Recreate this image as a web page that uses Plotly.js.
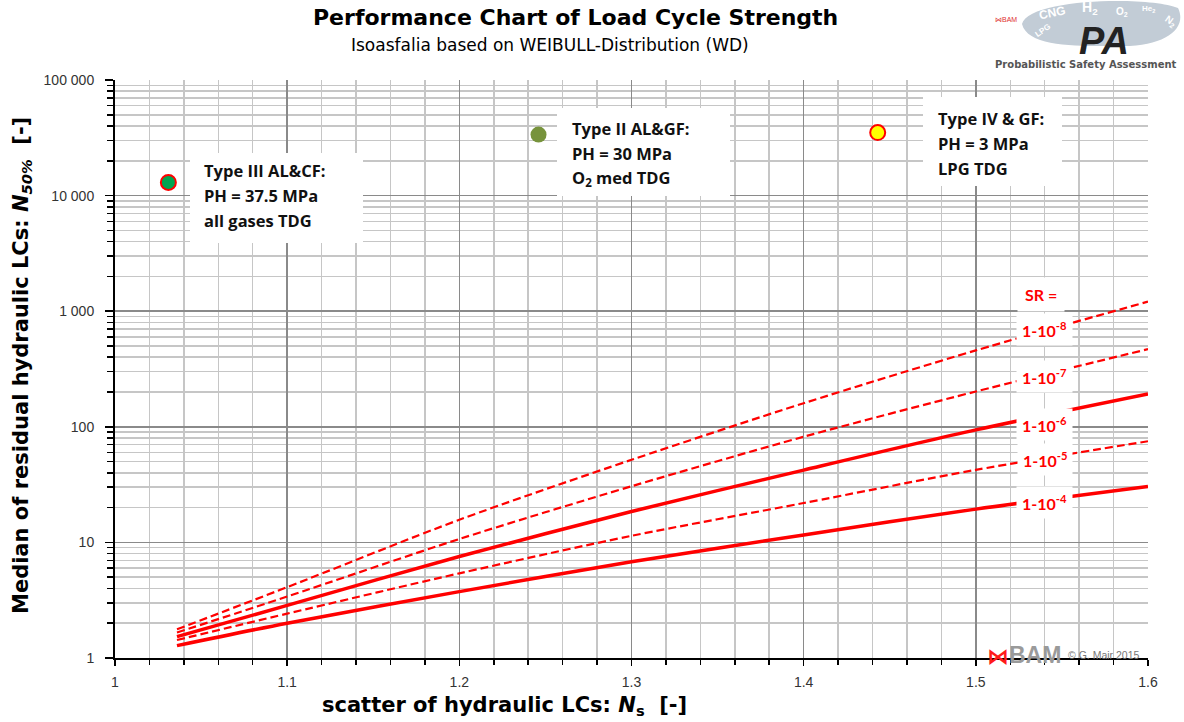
<!DOCTYPE html>
<html>
<head>
<meta charset="utf-8">
<script src="https://cdn.plot.ly/plotly-3.0.1.min.js"></script>
<style>html,body{margin:0;padding:0;background:#fff;}#chart{width:1184px;height:722px;}</style>
</head>
<body>
<div id="chart"></div>
<script>
// ---- data ----
const scatterNs = [1.036, 1.1, 1.2, 1.3, 1.4, 1.5, 1.6];
const sr1e8 = [1.77, 4.1, 15.7, 51.8, 160, 458, 1210];
const sr1e7 = [1.66, 3.4, 10.7, 30.6, 82, 202, 470];
const sr1e6 = [1.53, 2.85, 7.55, 18.5, 42.2, 94, 192];
const sr1e5 = [1.43, 2.42, 5.4, 11.4, 21.9, 42.4, 75];
const sr1e4 = [1.28, 2.0, 3.75, 6.8, 11.6, 19.4, 30.5];

const typeNames = ["Type III AL&CF", "Type II AL&GF", "Type IV & GF"];
const typeNs = [1.031, 1.246, 1.443];
const typeN50 = [13000, 33700, 35100];

const xTickVals = [1, 1.1, 1.2, 1.3, 1.4, 1.5, 1.6];
const xTickText = ["1", "1.1", "1.2", "1.3", "1.4", "1.5", "1.6"];
const yTickVals = [1, 10, 100, 1000, 10000, 100000];
const yTickText = ["1", "10", "100", "1 000", "10 000", "100 000"];

const srLabels = ["1-10<sup>-8</sup>", "1-10<sup>-7</sup>", "1-10<sup>-6</sup>", "1-10<sup>-5</sup>", "1-10<sup>-4</sup>"];

// ---- helpers for decoration placement (pixel -> paper) ----
const L = 115, R = 1148, T = 80, B = 658;
const px = p => (p - L) / (R - L);
const py = p => (B - p) / (B - T);

const RED = '#ff0000';
function lineTrace(y, dash, width, name) {
  return {x: scatterNs, y: y, type: 'scatter', mode: 'lines', name: name,
    line: {color: RED, width: width, dash: dash, shape: 'spline', smoothing: 0.8},
    hoverinfo: 'skip'};
}

const data = [
  lineTrace(sr1e8, '8px,4px', 2.2, 'SR 1-1e-8'),
  lineTrace(sr1e7, '8px,4px', 2.2, 'SR 1-1e-7'),
  lineTrace(sr1e6, 'solid', 3.5, 'SR 1-1e-6'),
  lineTrace(sr1e5, '8px,4px', 2.2, 'SR 1-1e-5'),
  lineTrace(sr1e4, 'solid', 3.5, 'SR 1-1e-4'),
  {x: [typeNs[0]], y: [typeN50[0]], type: 'scatter', mode: 'markers', name: typeNames[0],
   marker: {color: '#00a651', size: 15, line: {color: RED, width: 2}}},
  {x: [typeNs[1]], y: [typeN50[1]], type: 'scatter', mode: 'markers', name: typeNames[1],
   marker: {color: '#77933c', size: 16, line: {width: 0}}},
  {x: [typeNs[2]], y: [typeN50[2]], type: 'scatter', mode: 'markers', name: typeNames[2],
   marker: {color: '#ffff00', size: 15, line: {color: RED, width: 2}}}
];

const FT = '"Open Sans", Lato, sans-serif';
const FL = 'Lato, "Open Sans", sans-serif';
const FA = '"Liberation Sans", Arial, sans-serif';
const FD = '"DejaVu Sans", sans-serif';

const annotations = [];
// title + subtitle
annotations.push({xref: 'paper', yref: 'paper', x: px(575), y: py(18), text: '<b>Performance Chart of Load Cycle Strength</b>',
  showarrow: false, font: {family: FD, size: 22, color: '#000'}, xanchor: 'center', yanchor: 'middle'});
annotations.push({xref: 'paper', yref: 'paper', x: px(550), y: py(45), text: 'Isoasfalia based on WEIBULL-Distribution (WD)',
  showarrow: false, font: {family: FD, size: 17, color: '#000'}, xanchor: 'center', yanchor: 'middle'});
// axis titles
annotations.push({xref: 'paper', yref: 'paper', x: px(504), y: py(706),
  text: '<b>scatter of hydraulic LCs: <i>N</i><sub>s</sub>  [-]</b>',
  showarrow: false, font: {family: FD, size: 21, color: '#000'}, xanchor: 'center', yanchor: 'middle'});
annotations.push({xref: 'paper', yref: 'paper', x: px(22), y: py(366), textangle: -90,
  text: '<b>Median of residual hydraulic LCs: <i>N</i><sub><i>50%</i></sub>  [-]</b>',
  showarrow: false, font: {family: FD, size: 21, color: '#000'}, xanchor: 'center', yanchor: 'middle'});

// SR labels
annotations.push({x: 1.538, y: 3.143, text: '<b>SR =</b>', showarrow: false, bgcolor: '#fff', borderpad: 7,
  font: {family: FL, size: 16, color: RED}});
const srLabelY = [2.84, 2.433, 2.017, 1.714, 1.342];
srLabels.forEach((t, i) => annotations.push({x: 1.54, y: srLabelY[i], text: '<b>' + t + '</b>', showarrow: false,
  bgcolor: '#fff', borderpad: 5, font: {family: FL, size: 16, color: RED}}));

// type text lines
function textLines(x0, ys, lines) {
  lines.forEach((t, i) => annotations.push({xref: 'paper', yref: 'paper', x: px(x0), y: py(ys[i]), text: t,
    showarrow: false, xanchor: 'left', yanchor: 'middle', font: {family: FT, size: 16.5, color: '#111'}}));
}
textLines(202, [170, 195, 220], ['<b>Type III AL&amp;CF:</b>', '<b>PH = 37.5 MPa</b>', '<b>all gases TDG</b>']);
textLines(570, [129, 153, 178], ['<b>Type II AL&amp;GF:</b>', '<b>PH = 30 MPa</b>', '<b>O<sub>2</sub> med TDG</b>']);
textLines(936, [118, 143, 168], ['<b>Type IV &amp; GF:</b>', '<b>PH = 3 MPa</b>', '<b>LPG TDG</b>']);

// BAM footer
annotations.push({xref: 'paper', yref: 'paper', x: px(998), y: py(656), text: '<b>⋈</b>', showarrow: false,
  font: {family: FD, size: 22, color: '#ff1a1a'}, xanchor: 'center', yanchor: 'middle'});
annotations.push({xref: 'paper', yref: 'paper', x: px(1035), y: py(655), text: '<b>BAM</b>', showarrow: false,
  font: {family: FA, size: 23, color: '#9a9a9a'}, xanchor: 'center', yanchor: 'middle'});
annotations.push({xref: 'paper', yref: 'paper', x: px(1104), y: py(655), text: '© G. Mair 2015', showarrow: false,
  font: {family: FA, size: 10.5, color: '#777'}, xanchor: 'center', yanchor: 'middle'});

// PSA logo (top right)
const logoTxt = [
  [1006, 20, '⋈BAM', 7, '#e03030', 0, false, FA],
  [1052, 13, 'CNG', 12, '#fff', -12, true, FA],
  [1090, 8, 'H<sub>2</sub>', 14, '#fff', 0, true, FA],
  [1122, 12, 'O<sub>2</sub>', 10, '#fff', 0, true, FA],
  [1148, 9, 'He<sub>2</sub>', 8, '#fff', 0, true, FA],
  [1170, 21, 'N<sub>2</sub>', 10, '#fff', 35, true, FA],
  [1043, 31, 'LPG', 8, '#fff', -35, true, FA],
  [1104, 41, '<b><i>PA</i></b>', 38, '#222', 0, false, FA],
  [1086, 64, '<b>Probabilistic Safety Assessment</b>', 10, '#555', 0, false, FD]
];
logoTxt.forEach(d => annotations.push({xref: 'paper', yref: 'paper', x: px(d[0]), y: py(d[1]), text: d[6] ? '<b>' + d[2] + '</b>' : d[2],
  showarrow: false, textangle: d[5], font: {family: d[7], size: d[3], color: d[4]}, xanchor: 'center', yanchor: 'middle'}));

const shapes = [
  // white text boxes over the grid
  {type: 'rect', xref: 'paper', yref: 'paper', x0: px(190), x1: px(363), y0: py(243), y1: py(153), fillcolor: '#fff', line: {width: 0}, layer: 'above'},
  {type: 'rect', xref: 'paper', yref: 'paper', x0: px(557), x1: px(730), y0: py(196), y1: py(108), fillcolor: '#fff', line: {width: 0}, layer: 'above'},
  {type: 'rect', xref: 'paper', yref: 'paper', x0: px(923), x1: px(1062), y0: py(186), y1: py(97), fillcolor: '#fff', line: {width: 0}, layer: 'above'},
  // logo cloud
  {type: 'path', xref: 'paper', yref: 'paper', layer: 'below',
   path: 'M ' + px(1022) + ' ' + py(24) + ' C ' + px(1028) + ' ' + py(-2) + ' ' + px(1150) + ' ' + py(-4) + ' ' + px(1178) + ' ' + py(8) +
         ' C ' + px(1188) + ' ' + py(28) + ' ' + px(1165) + ' ' + py(47) + ' ' + px(1120) + ' ' + py(46) +
         ' C ' + px(1080) + ' ' + py(46) + ' ' + px(1028) + ' ' + py(48) + ' ' + px(1022) + ' ' + py(24) + ' Z',
   fillcolor: '#c2ccd6', line: {width: 0}}
];

const layout = {
  width: 1184, height: 722,
  margin: {l: L, r: 1184 - R, t: T, b: 722 - B, pad: 0},
  paper_bgcolor: '#fff', plot_bgcolor: '#fff',
  showlegend: false,
  font: {family: FA, color: '#333'},
  xaxis: {
    range: [1, 1.6], tickmode: 'array', tickvals: xTickVals, ticktext: xTickText,
    showgrid: true, gridcolor: '#8a8a8a', gridwidth: 1.5, zeroline: false,
    showline: true, linecolor: '#000', linewidth: 2,
    ticks: 'outside', ticklen: 6, tickcolor: '#000', tickwidth: 1.5, ticklabelstandoff: 4,
    tickfont: {family: FA, size: 14, color: '#333'},
    minor: {dtick: 0.02, tick0: 1, showgrid: true, gridcolor: '#c6c6c6', gridwidth: 1.5, ticks: 'outside', ticklen: 5, tickcolor: '#000', tickwidth: 1.5}
  },
  yaxis: {
    type: 'log', range: [0, 5], tickmode: 'array', tickvals: yTickVals, ticktext: yTickText,
    showgrid: true, gridcolor: '#8a8a8a', gridwidth: 1.5, zeroline: false,
    showline: true, linecolor: '#000', linewidth: 2,
    ticks: 'outside', ticklen: 8, tickcolor: '#000', tickwidth: 1.5, ticklabelstandoff: 8,
    tickfont: {family: FA, size: 14, color: '#333'},
    minor: {dtick: 'D1', showgrid: true, gridcolor: '#c6c6c6', gridwidth: 1.5, ticks: 'outside', ticklen: 6, tickcolor: '#000', tickwidth: 1.5}
  },
  annotations: annotations,
  shapes: shapes
};

Plotly.newPlot('chart', data, layout, {displayModeBar: false, staticPlot: true});
</script>
</body>
</html>
